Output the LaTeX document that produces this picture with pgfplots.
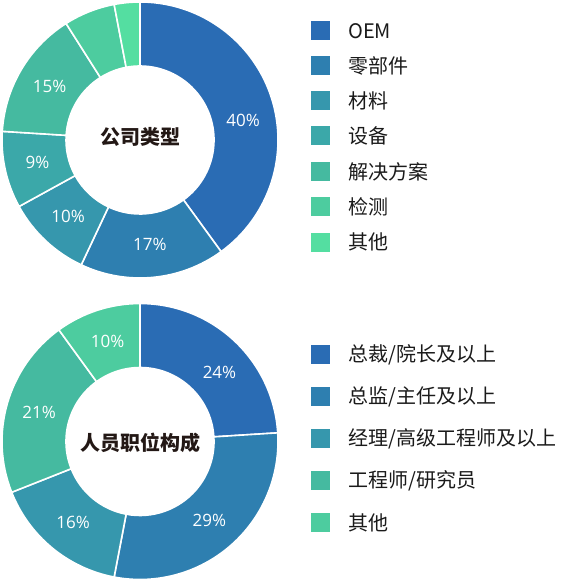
\documentclass[border=0pt]{standalone}
\usepackage{pgfplots}
\pgfplotsset{compat=1.18}
\usepackage{fontspec}
\setmainfont{Noto Sans CJK SC}
\newfontfamily\pctfont{Open Sans}
\definecolor{c1}{HTML}{2A6CB4}
\definecolor{c2}{HTML}{2E7FB0}
\definecolor{c3}{HTML}{3697AD}
\definecolor{c4}{HTML}{3BA8A9}
\definecolor{c5}{HTML}{45BAA0}
\definecolor{c6}{HTML}{4DCC9F}
\definecolor{c7}{HTML}{54DEA1}
\definecolor{titlec}{HTML}{231815}
\definecolor{legc}{HTML}{1A1A1A}

% value/colour/label-angle offset/show label
\newcommand\donut[1]{%
  \xdef\acur{90}%
  \foreach \v/\c/\lo/\s in {#1}{%
    \pgfmathsetmacro\aend{\acur-3.6*\v}%
    \pgfmathsetmacro\amid{(\acur+\aend)/2+\lo}%
    \edef\tmp{\noexpand\fill[\c, draw=white, line width=1.6pt]
      (axis cs:{138*cos(\acur)},{138*sin(\acur)})
      arc[start angle=\acur, end angle=\aend, radius=138pt]
      -- (axis cs:{74*cos(\aend)},{74*sin(\aend)})
      arc[start angle=\aend, end angle=\acur, radius=74pt] -- cycle;}%
    \tmp
    \ifnum\s=1
    \edef\tmp{\noexpand\node[text=white, font=\noexpand\fontsize{17}{17}\noexpand\pctfont]
      at (axis cs:{105*cos(\amid)},{105*sin(\amid)}) {\v\%};}%
    \tmp
    \fi
    \xdef\acur{\aend}%
  }%
}

\begin{document}
\begin{tikzpicture}
\path[use as bounding box] (0,0) rectangle (560pt,581pt);

\begin{axis}[at={(140pt,441pt)}, anchor=center, x=1pt, y=1pt,
  xmin=-140, xmax=140, ymin=-140, ymax=140, hide axis, clip=false, scale only axis]
  \addplot[draw=none, forget plot] coordinates {(0,0)};
  \donut{40/c1/-7/1, 17/c2/0/1, 10/c3/0/1, 9/c4/0/1, 15/c5/0/1, 6/c6/0/0, 3/c7/0/0}
  \node[text=titlec, font=\fontsize{20}{20}\selectfont\bfseries] at (axis cs:0,3) {公司类型};
\end{axis}

\begin{axis}[at={(140pt,139.5pt)}, anchor=center, x=1pt, y=1pt,
  xmin=-140, xmax=140, ymin=-140, ymax=140, hide axis, clip=false, scale only axis]
  \addplot[draw=none, forget plot] coordinates {(0,0)};
  \donut{24/c1/-6/1, 29/c2/0/1, 16/c3/0/1, 21/c5/0/1, 10/c6/0/1}
  \node[text=titlec, font=\fontsize{20}{20}\selectfont\bfseries] at (axis cs:0,-1) {人员职位构成};
\end{axis}

% legends
\foreach \y/\c/\t in {30.7/c1/OEM, 66/c2/零部件, 100.7/c3/材料, 136/c4/设备, 171.7/c5/解决方案, 207/c6/检测, 242.3/c7/其他}{
  \fill[\c] (311pt,{581pt-\y pt-9.5pt}) rectangle ++(19pt,19pt);
  \node[anchor=west, inner sep=0pt, text=legc, font=\fontsize{20}{20}\selectfont] at (348pt,{581pt-\y pt}) {\t};
}
\foreach \y/\c/\t in {355/c1/{总裁/院长及以上}, 396.7/c2/{总监/主任及以上}, 439/c3/{经理/高级工程师及以上}, 481/c5/{工程师/研究员}, 523/c6/其他}{
  \fill[\c] (311pt,{581pt-\y pt-9.5pt}) rectangle ++(19pt,19pt);
  \node[anchor=west, inner sep=0pt, text=legc, font=\fontsize{20}{20}\selectfont] at (348pt,{581pt-\y pt}) {\t};
}
\end{tikzpicture}
\end{document}
